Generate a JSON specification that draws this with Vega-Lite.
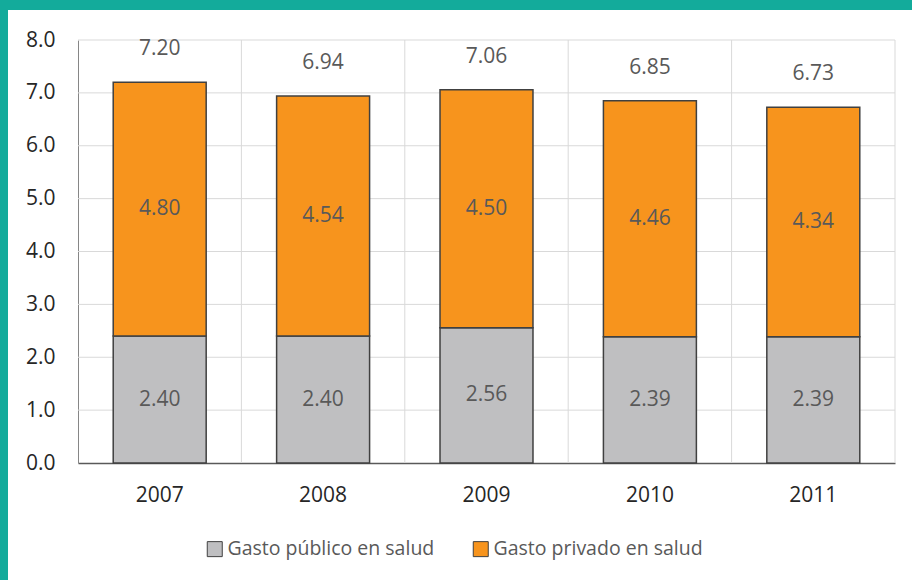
{
  "$schema": "https://vega.github.io/schema/vega-lite/v6.json",
  "autosize": {"type": "none"},
  "width": 904,
  "height": 570,
  "padding": {"left": 8, "top": 10, "right": 0, "bottom": 0},
  "background": "#13AB9B",
  "config": {"view": {"fill": "white", "stroke": null}, "font": "Open Sans"},
  "datasets": {
    "gasto": [
      {"anio": "2007", "tipo": "Gasto público en salud", "orden": 1, "valor": 2.40},
      {"anio": "2007", "tipo": "Gasto privado en salud", "orden": 2, "valor": 4.80},
      {"anio": "2008", "tipo": "Gasto público en salud", "orden": 1, "valor": 2.40},
      {"anio": "2008", "tipo": "Gasto privado en salud", "orden": 2, "valor": 4.54},
      {"anio": "2009", "tipo": "Gasto público en salud", "orden": 1, "valor": 2.56},
      {"anio": "2009", "tipo": "Gasto privado en salud", "orden": 2, "valor": 4.50},
      {"anio": "2010", "tipo": "Gasto público en salud", "orden": 1, "valor": 2.39},
      {"anio": "2010", "tipo": "Gasto privado en salud", "orden": 2, "valor": 4.46},
      {"anio": "2011", "tipo": "Gasto público en salud", "orden": 1, "valor": 2.39},
      {"anio": "2011", "tipo": "Gasto privado en salud", "orden": 2, "valor": 4.34}
    ],
    "totales": [
      {"anio": "2007", "total": 7.20},
      {"anio": "2008", "total": 6.94},
      {"anio": "2009", "total": 7.06},
      {"anio": "2010", "total": 6.85},
      {"anio": "2011", "total": 6.73}
    ],
    "gridH": [{"k": 1}, {"k": 2}, {"k": 3}, {"k": 4}, {"k": 5}, {"k": 6}, {"k": 7}, {"k": 8}],
    "gridV": [{"b": 1}, {"b": 2}, {"b": 3}, {"b": 4}, {"b": 5}]
  },
  "resolve": {"scale": {"x": "independent"}, "axis": {"x": "independent", "y": "independent"}},
  "layer": [
    {
      "layer": [
        {
          "data": {"name": "gridH"},
          "mark": {"type": "rule", "color": "#D9D9D9", "strokeWidth": 1},
          "encoding": {
            "y": {"field": "k", "type": "quantitative", "scale": {"domain": [0, 8], "range": [453, 30], "nice": false, "zero": true}, "axis": null},
            "x": {"datum": 0, "type": "quantitative", "scale": {"domain": [0, 5], "range": [70, 887], "nice": false}, "axis": null},
            "x2": {"datum": 5}
          }
        },
        {
          "data": {"name": "gridV"},
          "mark": {"type": "rule", "color": "#D9D9D9", "strokeWidth": 1},
          "encoding": {
            "x": {"field": "b", "type": "quantitative", "scale": {"domain": [0, 5], "range": [70, 887], "nice": false}, "axis": null},
            "y": {"datum": 0, "type": "quantitative", "scale": {"domain": [0, 8], "range": [453, 30], "nice": false, "zero": true}, "axis": null},
            "y2": {"datum": 8}
          }
        }
      ]
    },
    {
      "layer": [
        {
          "data": {"name": "gasto"},
          "mark": {"type": "bar", "stroke": "#404040", "strokeWidth": 1.5},
          "encoding": {
            "x": {
              "field": "anio", "type": "nominal",
              "scale": {"range": [70, 887], "paddingInner": 0.431, "paddingOuter": 0.2155},
              "axis": {"orient": "bottom", "offset": -117, "title": null, "ticks": false, "labelPadding": 21, "labelFontSize": 21, "labelColor": "#262626", "labelAngle": 0, "domainColor": "#595959", "domainWidth": 1.5}
            },
            "y": {
              "field": "valor", "type": "quantitative", "stack": "zero",
              "scale": {"domain": [0, 8], "range": [453, 30], "nice": false, "zero": true},
              "axis": {"offset": -70, "title": null, "grid": false, "ticks": false, "values": [0, 1, 2, 3, 4, 5, 6, 7, 8], "format": ".1f", "labelPadding": 23, "labelFontSize": 21, "labelColor": "#262626", "domainColor": "#868686", "domainWidth": 1}
            },
            "color": {
              "field": "tipo", "type": "nominal",
              "scale": {"domain": ["Gasto público en salud", "Gasto privado en salud"], "range": ["#BFBFC1", "#F7941D"]},
              "legend": {"orient": "none", "legendX": 197, "legendY": 529, "direction": "horizontal", "title": null, "labelFontSize": 19.5, "labelColor": "#595959", "labelLimit": 400, "symbolType": "square", "symbolSize": 225, "symbolStrokeColor": "#404040", "symbolStrokeWidth": 1, "symbolOpacity": 1, "columnPadding": 36, "labelOffset": 3}
            },
            "order": {"field": "orden", "type": "quantitative"}
          }
        },
        {
          "data": {"name": "gasto"},
          "mark": {"type": "text", "fontSize": 21, "color": "#595959", "baseline": "middle"},
          "encoding": {
            "x": {"field": "anio", "type": "nominal"},
            "y": {"field": "valor", "type": "quantitative", "stack": "zero", "bandPosition": 0.5},
            "detail": {"field": "tipo"},
            "order": {"field": "orden", "type": "quantitative"},
            "text": {"field": "valor", "type": "quantitative", "format": ".2f"}
          }
        },
        {
          "data": {"name": "totales"},
          "mark": {"type": "text", "fontSize": 21, "color": "#595959", "baseline": "middle", "dy": -33},
          "encoding": {
            "x": {"field": "anio", "type": "nominal"},
            "y": {"field": "total", "type": "quantitative"},
            "text": {"field": "total", "type": "quantitative", "format": ".2f"}
          }
        }
      ]
    }
  ]
}
